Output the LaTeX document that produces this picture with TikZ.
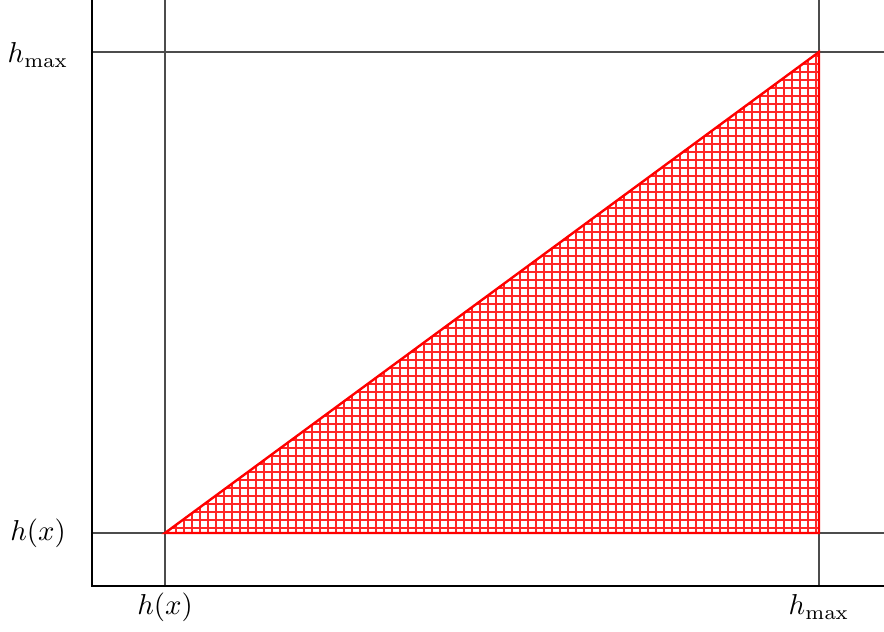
\documentclass[tikz,border=0pt]{standalone}
\usetikzlibrary{patterns}
\begin{document}
\begin{tikzpicture}[x=0.375pt,y=-0.375pt,
  axisline/.style={black,line width=0.4pt},
  guide/.style={black!70,line width=0.9pt},
  region/.style={pattern=grid,pattern color=red!85},
  lab/.style={inner sep=0pt,font=\normalsize,scale=1.08}]
\useasboundingbox (0,0) rectangle (884,632);
\coordinate (A) at (165,533);
\coordinate (B) at (819,52);
\coordinate (C) at (819,533);
% triangle region
\path[region] (A) -- (B) -- (C) -- cycle;
% guide lines
\draw[guide] (92,52) -- (884,52);
\draw[guide] (92,533) -- (884,533);
\draw[guide] (165,0) -- (165,586);
\draw[guide] (819,0) -- (819,586);
\draw[draw=red,line width=0.9pt] (A) -- (B) -- (C) -- cycle;
% axes
\draw[axisline] (92,0) -- (92,586) -- (884,586);
% labels
\node[lab] (ly1) at (38,55) {$h_{\max}$};
\node[lab] (ly2) at (38,533) {$h(x)$};
\node[lab] (lx1) at (165,607) {$h(x)$};
\node[lab] (lx2) at (819,607) {$h_{\max}$};
\end{tikzpicture}
\end{document}
